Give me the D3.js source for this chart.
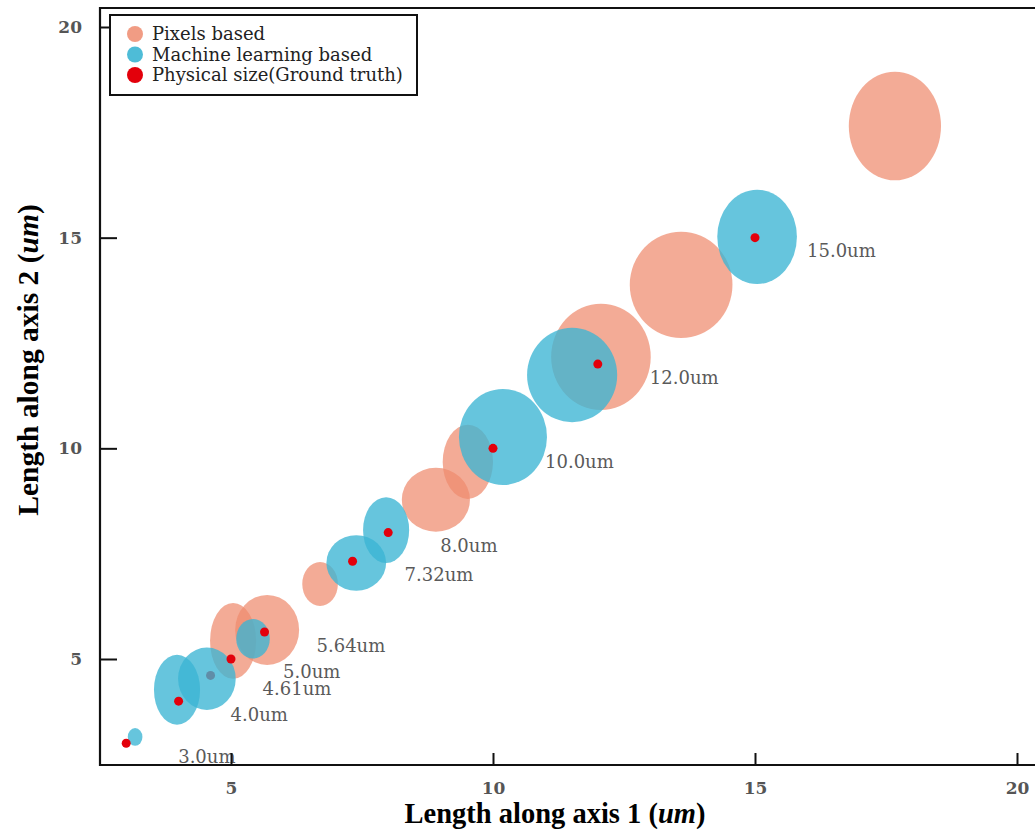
<!DOCTYPE html>
<html>
<head>
<meta charset="utf-8">
<script src="https://cdn.jsdelivr.net/npm/d3@7"></script>
<style>
  html, body { margin: 0; padding: 0; background: #fff; }
  svg { display: block; }
</style>
</head>
<body>
<svg id="chart" width="1035" height="831"></svg>
<script>
// ---- data ----
const xTicks = [5, 10, 15, 20];
const yTicks = [5, 10, 15, 20];

// ground-truth physical sizes (um)
const truthSizes = [3.0, 4.0, 4.61, 5.0, 5.64, 7.32, 8.0, 10.0, 12.0, 15.0];
const truthLabels = ["3.0um", "4.0um", "4.61um", "5.0um", "5.64um", "7.32um", "8.0um", "10.0um", "12.0um", "15.0um"];
const truthBelowML = [4.61];

// pixels-based estimates: centre (axis1, axis2) and half-spread (axis1, axis2)
const pixCx = [5.04, 5.69, 6.70, 8.91, 9.52, 12.06, 13.59, 17.67];
const pixCy = [5.43, 5.69, 6.78, 8.78, 9.68, 12.17, 13.88, 17.65];
const pixRx = [0.44, 0.61, 0.34, 0.65, 0.48, 0.95, 0.98, 0.88];
const pixRy = [0.90, 0.83, 0.52, 0.76, 0.88, 1.26, 1.26, 1.29];

// machine-learning-based estimates
const mlCx = [3.17, 3.97, 4.54, 5.42, 7.39, 7.96, 10.19, 11.51, 15.04];
const mlCy = [3.15, 4.27, 4.53, 5.48, 7.28, 8.06, 10.27, 11.74, 15.02];
const mlRx = [0.14, 0.44, 0.55, 0.32, 0.57, 0.44, 0.84, 0.86, 0.76];
const mlRy = [0.21, 0.83, 0.74, 0.47, 0.66, 0.78, 1.14, 1.12, 1.12];

const legendNames = ["Pixels based", "Machine learning based", "Physical size(Ground truth)"];

// ---- styles ----
const PIX_COLOR = "rgb(238,139,110)";
const ML_COLOR = "rgb(59,181,211)";
const TRUTH_COLOR = "#e3000b";

const svg = d3.select("#chart");
const W = 1035, H = 831;
const frame = { left: 100, top: 8, bottom: 765, right: 1045 };

const x = d3.scaleLinear().domain([5, 20]).range([231, 1017]);
const y = d3.scaleLinear().domain([5, 20]).range([659, 27]);

svg.append("rect").attr("width", W).attr("height", H).attr("fill", "#fff");

svg.append("defs").append("clipPath").attr("id", "plotclip")
  .append("rect")
  .attr("x", frame.left).attr("y", frame.top)
  .attr("width", frame.right - frame.left).attr("height", frame.bottom - frame.top);

const plot = svg.append("g").attr("clip-path", "url(#plotclip)");

function ellipses(g, cx, cy, rx, ry, color, op) {
  g.selectAll(null).data(cx.map((d, i) => i)).enter().append("ellipse")
    .attr("cx", i => x(cx[i]))
    .attr("cy", i => y(cy[i]))
    .attr("rx", i => x(cx[i] + rx[i]) - x(cx[i]))
    .attr("ry", i => y(cy[i]) - y(cy[i] + ry[i]))
    .attr("fill", color)
    .attr("fill-opacity", op);
}

function dots(g, vals) {
  g.selectAll(null).data(vals).enter().append("circle")
    .attr("cx", d => x(d)).attr("cy", d => y(d)).attr("r", 4.5)
    .attr("fill", TRUTH_COLOR);
}

ellipses(plot.append("g"), pixCx, pixCy, pixRx, pixRy, PIX_COLOR, 0.72);
dots(plot.append("g"), truthSizes.filter(v => truthBelowML.includes(v)));
ellipses(plot.append("g"), mlCx, mlCy, mlRx, mlRy, ML_COLOR, 0.78);
dots(plot.append("g"), truthSizes.filter(v => !truthBelowML.includes(v)));

// size labels
svg.append("g").selectAll("text").data(truthSizes).enter().append("text")
  .attr("x", d => x(d) + 52)
  .attr("y", d => y(d) + 13)
  .attr("dy", "0.36em")
  .attr("font-family", "'DejaVu Serif', serif")
  .attr("font-size", 18)
  .attr("fill", "#5a5a5a")
  .text((d, i) => truthLabels[i]);

// axes
const xAxis = d3.axisBottom(x).tickValues(xTicks).tickSizeInner(-12).tickSizeOuter(0).tickPadding(17);
const yAxis = d3.axisLeft(y).tickValues(yTicks).tickSizeInner(-17).tickSizeOuter(0).tickPadding(18);

const gx = svg.append("g").attr("transform", `translate(0,${frame.bottom})`).call(xAxis);
const gy = svg.append("g").attr("transform", `translate(${frame.left},0)`).call(yAxis);
[gx, gy].forEach(g => {
  g.select(".domain").remove();
  g.selectAll(".tick line").attr("stroke", "#111").attr("stroke-width", 2);
  g.selectAll(".tick text")
    .attr("font-family", "'DejaVu Serif', serif")
    .attr("font-weight", "bold")
    .attr("font-size", 17)
    .attr("fill", "#555");
});

// frame
svg.append("path")
  .attr("d", `M${frame.right},${frame.top}H${frame.left}V${frame.bottom}H${frame.right}`)
  .attr("fill", "none").attr("stroke", "#111").attr("stroke-width", 2.2);

// axis titles
const xt = svg.append("text")
  .attr("x", 555).attr("y", 823)
  .attr("text-anchor", "middle")
  .attr("font-family", "'Liberation Serif', serif")
  .attr("font-weight", "bold").attr("font-size", 28.5).attr("fill", "#000");
xt.append("tspan").text("Length along axis 1 (");
xt.append("tspan").attr("font-style", "italic").text("um");
xt.append("tspan").text(")");

const yt = svg.append("text")
  .attr("transform", "translate(38,360) rotate(-90)")
  .attr("text-anchor", "middle")
  .attr("font-family", "'Liberation Serif', serif")
  .attr("font-weight", "bold").attr("font-size", 29.5).attr("fill", "#000");
yt.append("tspan").text("Length along axis 2 (");
yt.append("tspan").attr("font-style", "italic").text("um");
yt.append("tspan").text(")");

// legend
const lg = svg.append("g");
lg.append("rect")
  .attr("x", 110).attr("y", 15).attr("width", 307).attr("height", 80)
  .attr("fill", "#fff").attr("stroke", "#111").attr("stroke-width", 2);
const legColors = [PIX_COLOR, ML_COLOR, TRUTH_COLOR];
const legOp = [0.85, 0.9, 1];
const legY = d3.scalePoint().domain(legendNames).range([34, 75]);
lg.selectAll("circle").data(legendNames).enter().append("circle")
  .attr("cx", 135).attr("cy", d => legY(d)).attr("r", 8)
  .attr("fill", (d, i) => legColors[i]).attr("fill-opacity", (d, i) => legOp[i]);
lg.selectAll("text").data(legendNames).enter().append("text")
  .attr("x", 152).attr("y", d => legY(d)).attr("dy", "0.35em")
  .attr("font-family", "'DejaVu Serif', serif")
  .attr("font-size", 18).attr("fill", "#222")
  .text(d => d);
</script>
</body>
</html>
